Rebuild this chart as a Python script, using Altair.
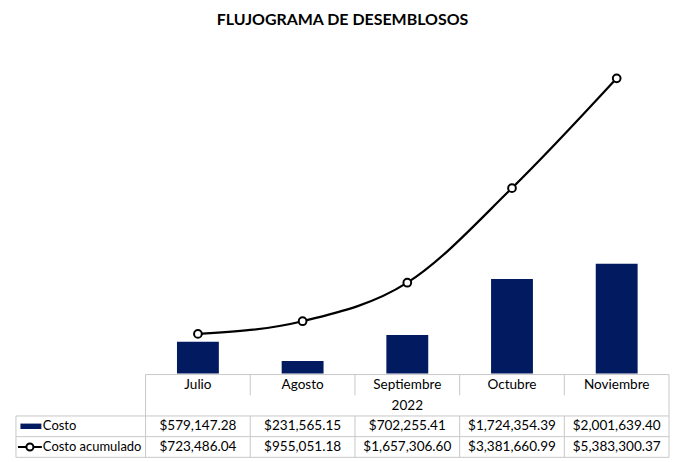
import altair as alt
import pandas as pd

# ---- data ----
meses = ["Julio", "Agosto", "Septiembre", "Octubre", "Noviembre"]
costo = [579147.28, 231565.15, 702255.41, 1724354.39, 2001639.40]
acumulado = [723486.04, 955051.18, 1657306.60, 3381660.99, 5383300.37]
anio = "2022"
titulo = "FLUJOGRAMA DE DESEMBLOSOS"
filas = ["mes", "anio", "costo", "acum"]
etiquetas = ["Costo", "Costo acumulado"]

NAVY = "#021b60"
GRID = "#c8c8c8"
FONT = "Lato"
FS = 13.6
W = 525
H_PLOT = 330
H_TAB = 83

df = pd.DataFrame({"mes": meses, "costo": costo, "acumulado": acumulado})

xscale = alt.Scale(domain=meses, paddingInner=0, paddingOuter=0)
xenc = alt.X("mes:N", sort=meses, scale=xscale, axis=None)
yscale = alt.Scale(domain=[0, 6000000])

bars = alt.Chart(df).mark_bar(color=NAVY, width=alt.RelativeBandSize(0.4)).encode(
    x=xenc, y=alt.Y("costo:Q", scale=yscale, axis=None)
)
line = alt.Chart(df).mark_line(color="black", strokeWidth=2.2, interpolate="monotone").encode(
    x=xenc, y=alt.Y("acumulado:Q", scale=yscale, axis=None)
)
pts = alt.Chart(df).mark_point(
    shape="circle", filled=True, fill="white", stroke="black", strokeWidth=2, size=60, opacity=1
).encode(x=xenc, y=alt.Y("acumulado:Q", scale=yscale, axis=None))
top = alt.layer(bars, line, pts).properties(width=W, height=H_PLOT)

# ---- data table ----
rows = []
for m, c, a in zip(meses, costo, acumulado):
    rows.append({"mes": m, "fila": "mes", "texto": m})
    rows.append({"mes": m, "fila": "costo", "texto": f"${c:,.2f}"})
    rows.append({"mes": m, "fila": "acum", "texto": f"${a:,.2f}"})
tdf = pd.DataFrame(rows)

yscale_t = alt.Scale(domain=filas, paddingInner=0, paddingOuter=0)
yt = alt.Y("fila:N", sort=filas, scale=yscale_t, axis=None)

cells = alt.Chart(tdf).mark_text(font=FONT, fontSize=FS, color="black").encode(
    x=xenc, y=yt, text="texto:N"
)
anio_df = pd.DataFrame({"fila": ["anio"], "texto": [anio]})
anio_txt = alt.Chart(anio_df).mark_text(font=FONT, fontSize=FS, color="black").encode(
    x=alt.value(W / 2), y=yt, text="texto:N"
)
lab_df = pd.DataFrame({"fila": ["costo", "acum"], "texto": etiquetas})
labels = alt.Chart(lab_df).mark_text(font=FONT, fontSize=13, color="black", align="left").encode(
    x=alt.value(-103), y=yt, text="texto:N"
)
sym_bar = alt.Chart(lab_df.iloc[[0]]).mark_point(
    shape="M-1,-0.26H1V0.26H-1Z", filled=True, fill=NAVY, strokeWidth=0, size=441, opacity=1
).encode(x=alt.value(-115), y=yt)
sym_line = alt.Chart(lab_df.iloc[[1]]).mark_rule(color="black", strokeWidth=2).encode(
    x=alt.value(-128), x2=alt.value(-104), y=yt
)
sym_pt = alt.Chart(lab_df.iloc[[1]]).mark_point(
    shape="circle", filled=True, fill="white", stroke="black", strokeWidth=2, size=50, opacity=1
).encode(x=alt.value(-116), y=yt)

# grid lines
def vseg(data_meses, band, y0, y1):
    return alt.Chart(pd.DataFrame({"mes": data_meses})).mark_rule(color=GRID, strokeWidth=1).encode(
        x=alt.X("mes:N", sort=meses, scale=xscale, axis=None, bandPosition=band),
        y=alt.value(y0), y2=alt.value(y1),
    )

r1 = H_TAB / 4
v_inner_top = vseg(meses[1:], 0, 0, r1)
v_inner_bot = vseg(meses[1:], 0, 2 * r1, H_TAB)
v_left = vseg(meses[:1], 0, 0, H_TAB)
v_right = vseg(meses[-1:], 1, 0, H_TAB)
v_outer = alt.Chart(lab_df.iloc[[0]]).mark_rule(color=GRID).encode(
    x=alt.value(-130), y=alt.value(2 * r1), y2=alt.value(H_TAB)
)
h_top = alt.Chart(pd.DataFrame({"fila": ["mes"]})).mark_rule(color=GRID).encode(
    x=alt.value(0), x2=alt.value(W), y=alt.Y("fila:N", sort=filas, scale=yscale_t, axis=None, bandPosition=0)
)
h_rows = alt.Chart(pd.DataFrame({"fila": ["costo", "acum"]})).mark_rule(color=GRID).encode(
    x=alt.value(-130), x2=alt.value(W), y=alt.Y("fila:N", sort=filas, scale=yscale_t, axis=None, bandPosition=0)
)
h_bot = alt.Chart(pd.DataFrame({"fila": ["acum"]})).mark_rule(color=GRID).encode(
    x=alt.value(-130), x2=alt.value(W), y=alt.Y("fila:N", sort=filas, scale=yscale_t, axis=None, bandPosition=1)
)

table = alt.layer(
    v_inner_top, v_inner_bot, v_left, v_right, v_outer, h_top, h_rows, h_bot,
    cells, anio_txt, labels, sym_bar, sym_line, sym_pt,
).properties(width=W, height=H_TAB)

chart = alt.vconcat(top, table, spacing=0).properties(
    title=alt.Title(titulo, font=FONT, fontSize=16, fontWeight="bold", color="black",
                    anchor="middle", offset=17),
    padding={"left": 15, "right": 10, "top": 11, "bottom": 2},
    autosize=alt.AutoSizeParams(type="pad"),
).configure_view(stroke=None)

chart.save("out.html", embed_options={"renderer": "svg", "actions": False})
